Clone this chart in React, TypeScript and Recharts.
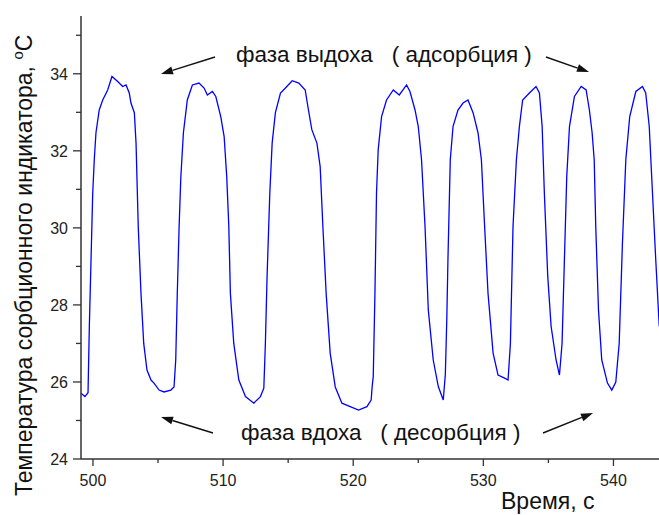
import { LineChart, Line, XAxis, YAxis } from 'recharts';

// time, s
const TIME = [
  499.08, 499.38, 499.62, 499.72, 499.85, 499.98, 500.1, 500.23, 500.48, 500.75,
  501.13, 501.46, 501.9, 502.28, 502.54, 502.79, 502.92, 503.18, 503.31, 503.48,
  503.69, 503.9, 504.15, 504.46, 504.69, 505.08, 505.46, 505.98, 506.23, 506.36,
  506.48, 506.62, 506.75, 506.95, 507.25, 507.64, 508.15, 508.54, 508.79, 509.18,
  509.44, 509.82, 510.08, 510.28, 510.44, 510.56, 510.82, 511.21, 511.72, 512.36,
  512.87, 513.13, 513.25, 513.38, 513.59, 513.77, 514.02, 514.41, 514.79, 515.31,
  515.82, 516.31, 516.56, 516.82, 517.21, 517.46, 517.67, 517.92, 518.23, 518.62,
  519.13, 519.77, 520.41, 521.05, 521.38, 521.46, 521.54, 521.67, 521.79, 521.92,
  522.18, 522.56, 523.08, 523.54, 524.1, 524.36, 524.75, 525.0, 525.25, 525.52,
  525.77, 526.15, 526.54, 526.92, 527.08, 527.19, 527.28, 527.46, 527.67, 528.05,
  528.44, 528.82, 529.21, 529.59, 529.85, 530.1, 530.36, 530.75, 531.13, 531.64,
  531.9, 532.08, 532.28, 532.54, 532.77, 533.02, 533.54, 534.05, 534.31, 534.52,
  534.69, 534.95, 535.21, 535.59, 535.85, 536.05, 536.23, 536.41, 536.62, 537.0,
  537.52, 537.9, 538.15, 538.36, 538.52, 538.64, 538.85, 539.1, 539.54, 539.87,
  540.18, 540.44, 540.69, 540.95, 541.25, 541.72, 542.23, 542.48, 542.75, 543.0,
  543.25, 543.52,
];

// temperature, °C
const TEMP = [
  25.71, 25.62, 25.72, 27.43, 29.17, 30.9, 31.77, 32.47, 33.06, 33.32,
  33.58, 33.93, 33.8, 33.67, 33.71, 33.5, 33.24, 32.99, 32.2, 30.03,
  28.3, 27.0, 26.31, 26.05, 25.97, 25.79, 25.74, 25.79, 25.87, 26.57,
  28.3, 30.03, 31.3, 32.47, 33.32, 33.71, 33.76, 33.63, 33.45, 33.54,
  33.41, 32.89, 32.37, 31.33, 30.03, 28.3, 27.0, 26.05, 25.62, 25.45,
  25.62, 25.84, 27.0, 28.74, 30.9, 32.2, 32.99, 33.5, 33.63, 33.82,
  33.76, 33.58, 33.06, 32.55, 32.2, 31.59, 30.03, 28.3, 26.75, 25.87,
  25.45, 25.36, 25.27, 25.36, 25.53, 25.9, 26.14, 28.3, 30.9, 32.03,
  32.89, 33.32, 33.58, 33.45, 33.71, 33.54, 33.06, 32.63, 31.77, 30.03,
  27.87, 26.57, 25.88, 25.53, 26.2, 27.6, 29.17, 31.77, 32.63, 33.06,
  33.24, 33.32, 32.99, 32.47, 31.77, 30.03, 28.3, 26.75, 26.18, 26.1,
  26.05, 27.0, 30.03, 31.77, 32.63, 33.32, 33.5, 33.67, 33.5, 32.63,
  30.9, 28.74, 27.44, 26.57, 26.18, 27.0, 29.17, 31.33, 32.63, 33.41,
  33.67, 33.58, 33.06, 32.47, 31.77, 30.03, 27.87, 26.57, 25.97, 25.79,
  26.0, 27.0, 29.6, 31.77, 32.89, 33.54, 33.67, 33.5, 32.63, 30.9,
  29.17, 27.44,
];

const X_MAJOR = [500, 510, 520, 530, 540];
const X_MINOR = [505, 515, 525, 535];
const Y_MAJOR = [24, 26, 28, 30, 32, 34];
const Y_MINOR = [25, 27, 29, 31, 33, 35];

const data = TIME.map((t, i) => ({ t, v: TEMP[i] }));

const FONT = '"Liberation Sans", Arial, sans-serif';
const AXIS = '#333';

const XTick = ({ x, y, payload }: any) => {
  const major = X_MAJOR.includes(payload.value);
  return (
    <g>
      <line x1={x} x2={x} y1={y} y2={y + (major ? 7 : 4)} stroke={AXIS} strokeWidth={1.3} />
      {major && (
        <text x={x} y={y + 27} textAnchor="middle" fontSize={16} fontFamily={FONT} fill="#222">
          {payload.value}
        </text>
      )}
    </g>
  );
};

const YTick = ({ x, y, payload }: any) => {
  const major = Y_MAJOR.includes(payload.value);
  return (
    <g>
      <line x1={x} x2={x - (major ? 8 : 5)} y1={y} y2={y} stroke={AXIS} strokeWidth={1.3} />
      {major && (
        <text x={x - 13} y={y + 6} textAnchor="end" fontSize={16} fontFamily={FONT} fill="#222">
          {payload.value}
        </text>
      )}
    </g>
  );
};

const Arrow = ({ x1, y1, x2, y2 }: { x1: number; y1: number; x2: number; y2: number }) => {
  const a = Math.atan2(y2 - y1, x2 - x1);
  const len = 12;
  const w = 4;
  const bx = x2 - len * Math.cos(a);
  const by = y2 - len * Math.sin(a);
  const px = -Math.sin(a) * w;
  const py = Math.cos(a) * w;
  return (
    <g>
      <line x1={x1} y1={y1} x2={bx} y2={by} stroke="#111" strokeWidth={1.4} />
      <polygon points={`${x2},${y2} ${bx + px},${by + py} ${bx - px},${by - py}`} fill="#111" />
    </g>
  );
};

export default function App() {
  return (
    <div style={{ position: 'absolute', left: 0, top: 0, width: 659, height: 515, overflow: 'hidden', background: '#fff' }}>
      <LineChart width={659} height={515} data={data} margin={{ top: 16, right: 0, left: 0, bottom: 0 }}>
        <XAxis
          dataKey="t"
          type="number"
          domain={[499.08, 543.5]}
          allowDataOverflow
          ticks={[...X_MAJOR, ...X_MINOR].sort((a, b) => a - b)}
          interval={0}
          tickSize={0}
          tickMargin={0}
          tickLine={false}
          tick={<XTick />}
          height={56}
          axisLine={{ stroke: AXIS, strokeWidth: 1.5 }}
        />
        <YAxis
          type="number"
          domain={[24, 35.5]}
          allowDataOverflow
          ticks={[...Y_MAJOR, ...Y_MINOR].sort((a, b) => a - b)}
          interval={0}
          tickSize={0}
          tickMargin={0}
          tickLine={false}
          tick={<YTick />}
          width={81}
          axisLine={{ stroke: AXIS, strokeWidth: 1.5 }}
        />
        <Line
          dataKey="v"
          type="linear"
          stroke="#0000ff"
          strokeWidth={1.3}
          dot={false}
          isAnimationActive={false}
        />
      </LineChart>
      <svg
        width={659}
        height={515}
        style={{ position: 'absolute', left: 0, top: 0, pointerEvents: 'none' }}
        fontFamily={FONT}
      >
        <text x={236} y={62} fontSize={22.5} fill="#111" style={{ whiteSpace: 'pre' }}>
          {'фаза выдоха   ( адсорбция )'}
        </text>
        <text x={241} y={440} fontSize={22.5} fill="#111" style={{ whiteSpace: 'pre' }}>
          {'фаза вдоха   ( десорбция )'}
        </text>
        <Arrow x1={215} y1={57} x2={161} y2={74} />
        <Arrow x1={546} y1={57} x2={589} y2={72} />
        <Arrow x1={213} y1={433} x2={161} y2={417} />
        <Arrow x1={543} y1={433} x2={593} y2={413} />
        <text x={501} y={509} fontSize={23} fill="#111">
          Время, с
        </text>
        <text transform="translate(32, 496) rotate(-90)" x={0} y={0} fontSize={23} fill="#111">
          Температура сорбционного индикатора,{' '}
          <tspan dy={-9} fontSize={15}>o</tspan>
          <tspan dy={9}>C</tspan>
        </text>
      </svg>
    </div>
  );
}
